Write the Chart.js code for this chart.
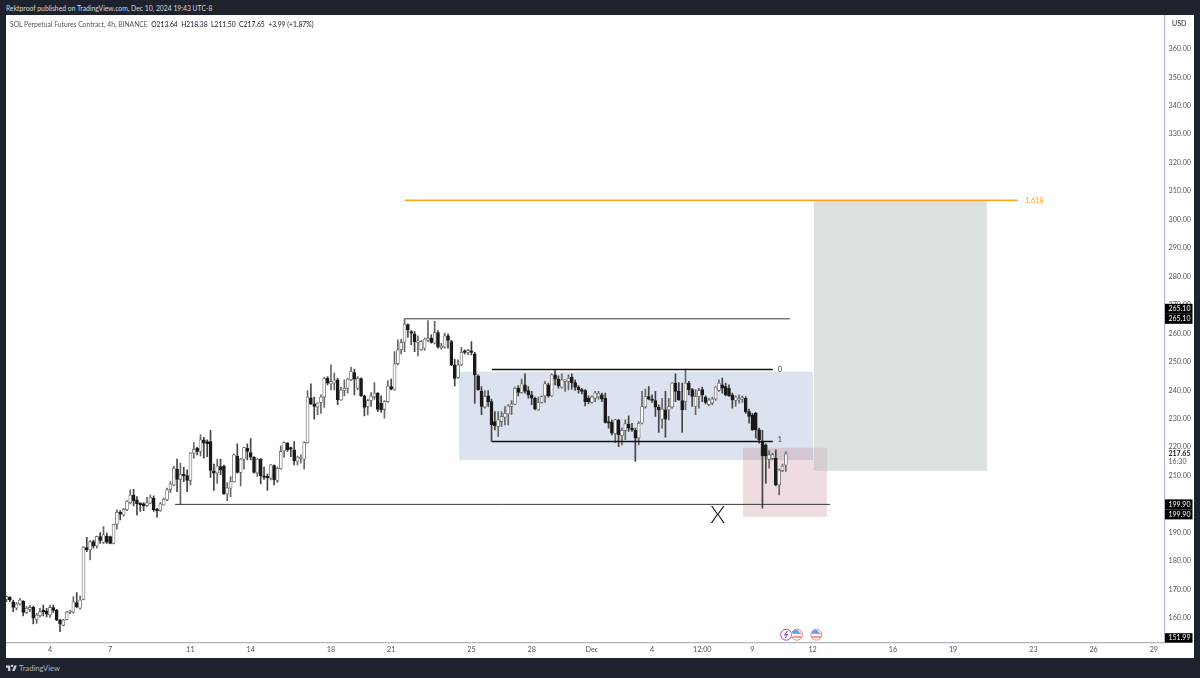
<!DOCTYPE html>
<html>
<head>
<meta charset="utf-8">
<title>SOL Perpetual Futures Contract, 4h</title>
<script src="https://cdn.jsdelivr.net/npm/chart.js@4"></script>
<style>
  html, body { margin: 0; padding: 0; width: 1200px; height: 678px; overflow: hidden; background: #1e222d; }
  body { position: relative; font-family: Lato, sans-serif; }
  #publisher { position: absolute; left: 6px; top: 3px; color: #d6d8de; font-size: 6.8px; line-height: 11px; white-space: nowrap; }
  #panel { position: absolute; left: 6px; top: 15px; width: 1188px; height: 643px; background: #fff; }
  #legend { position: absolute; left: 4px; top: 3px; font-size: 6.75px; line-height: 12px; color: #131722; white-space: nowrap; }
  #legend span { color: #50535e; }
  #brand { position: absolute; left: 19px; top: 662px; color: #b2b5be; font-size: 7.6px; line-height: 12px; }
  #logo { position: absolute; left: 6px; top: 664px; }
  canvas { position: absolute; left: 0; top: 0; }
</style>
</head>
<body>
<div id="publisher">Rektproof published on TradingView.com, Dec 10, 2024 19:43 UTC-8</div>
<div id="panel">
  <canvas id="solChart" width="1188" height="643"></canvas>
  <div id="legend"><span>SOL Perpetual Futures Contract, 4h, BINANCE</span>&nbsp;&nbsp;O213.64&nbsp;&nbsp;H218.38&nbsp;&nbsp;L211.50&nbsp;&nbsp;C217.65&nbsp;&nbsp;+3.99 (+1.87%)</div>
</div>
<svg id="logo" width="11" height="8" viewBox="0 0 36 24"><path fill="#d6d8de" d="M14 22H7V11H0V4h14zM28 22h-8l7.5-18h8zM20 9a4 4 0 1 0 0-8 4 4 0 0 0 0 8z"/></svg>
<div id="brand">TradingView</div>
<script>
// one candle every 4 hours, bar 0 is Nov 4 00:00
const firstBar = -13;

const opens = [
  166.5,167.2,165.7,163.4,164.9,165.8,161.9,163.0,163.7,159.5,
  160.8,162.8,162.4,161.0,163.6,162.8,159.3,157.4,159.5,161.9,
  162.0,165.4,163.4,166.5,184.7,183.9,186.8,185.3,188.6,186.5,
  188.8,188.6,186.2,192.9,197.1,196.2,198.0,200.5,203.2,201.5,
  200.3,200.1,199.4,200.3,202.1,198.2,197.7,199.7,201.5,205.2,
  206.7,212.3,208.7,210.3,210.0,208.3,217.9,219.6,218.5,222.6,
  222.0,222.0,211.7,210.9,213.2,213.4,203.5,205.6,207.9,216.9,
  211.1,215.8,219.6,218.1,216.5,210.9,215.8,209.7,209.3,209.1,
  213.5,208.3,212.4,218.7,221.4,219.6,219.1,215.1,216.0,215.8,
  221.6,237.3,235.2,234.1,235.7,237.6,244.2,242.2,242.5,243.7,
  236.6,239.9,240.7,243.7,246.2,240.7,244.1,238.0,234.3,236.4,
  237.6,239.0,235.4,233.3,236.0,241.3,240.1,249.3,254.2,256.9,
  263.1,260.6,259.8,256.8,254.2,254.8,257.5,258.3,256.5,260.3,
  255.0,255.1,259.1,257.1,248.9,244.5,248.9,253.6,253.3,253.6,
  252.8,245.1,239.6,234.1,238.0,236.0,229.0,227.3,229.0,230.5,
  231.7,234.3,235.1,240.7,239.2,241.9,239.9,238.4,237.2,233.1,
  235.7,238.0,241.9,238.0,245.4,243.9,241.1,243.1,243.1,244.6,
  242.7,241.1,240.2,239.9,237.2,235.7,237.2,237.6,238.4,237.2,
  229.0,228.7,224.7,229.4,224.0,225.9,228.1,226.7,225.9,223.2,
  228.4,234.1,237.8,236.9,236.4,234.1,229.8,233.1,233.1,234.1,
  242.5,239.6,236.4,236.0,242.5,240.2,234.3,237.8,240.2,237.6,
  234.9,235.5,236.9,239.9,241.9,241.3,240.7,238.4,236.4,236.6,
  236.9,237.2,232.5,231.4,231.9,226.1,222.0,220.8,215.8,216.0,
  216.1,206.7,211.8,213.64
];
const closes = [
  167.5,166.3,163.7,164.9,166.3,161.9,163.4,163.7,159.9,161.0,
  162.2,162.1,161.3,163.7,162.6,159.3,157.9,159.3,162.1,162.3,
  165.7,164.0,166.3,184.8,183.9,186.8,185.3,188.6,187.2,189.2,
  186.6,186.2,192.9,197.1,196.5,198.2,200.9,203.2,201.2,200.1,
  199.7,199.4,200.5,202.4,198.0,197.7,200.1,201.7,205.0,207.1,
  212.6,208.7,210.5,209.9,208.3,217.9,219.3,218.5,222.6,221.4,
  221.2,211.8,210.9,213.4,212.0,203.6,205.7,207.9,217.3,211.1,
  215.8,219.9,218.5,216.5,211.1,215.8,209.9,209.4,209.2,213.8,
  208.5,212.6,218.5,221.6,219.1,219.3,215.2,216.5,216.1,221.6,
  237.6,235.2,234.3,235.5,237.6,244.2,242.5,243.1,243.7,236.6,
  240.1,240.7,243.9,246.6,243.9,244.2,238.0,234.0,236.4,238.0,
  239.0,233.3,233.1,236.0,241.5,240.4,249.3,254.2,256.8,263.3,
  261.2,260.1,257.1,256.9,257.1,258.0,258.3,256.8,260.3,255.1,
  255.4,259.1,257.5,248.9,244.2,248.9,253.3,253.3,254.0,253.3,
  245.4,240.1,234.3,237.8,236.0,227.8,227.6,229.6,230.8,231.9,
  234.5,235.2,240.7,239.2,242.3,239.6,238.4,237.2,233.4,235.7,
  237.8,242.3,238.0,245.4,243.9,241.6,243.7,243.4,244.3,242.7,
  241.1,240.2,239.6,236.0,236.0,237.6,239.0,239.0,236.9,228.7,
  228.4,224.9,229.6,224.3,225.9,228.2,226.7,226.1,223.2,228.4,
  234.3,237.8,236.9,236.4,234.1,233.1,233.4,229.8,234.3,242.5,
  239.6,236.6,233.1,242.5,240.2,237.8,237.8,239.9,238.4,235.7,
  236.6,236.9,241.1,242.5,240.7,238.4,238.0,236.6,237.6,237.2,
  237.2,232.5,230.8,226.1,226.1,222.6,216.9,216.9,217.3,217.5,
  206.7,212.0,213.4,217.65
];
const highs = [
  167.7,167.5,166.3,165.4,166.9,166.1,164.0,164.4,164.2,161.6,
  163.4,164.5,163.4,164.5,164.5,163.0,159.5,159.5,162.3,162.8,
  167.5,168.9,167.7,185.1,188.3,187.2,187.4,188.8,190.0,192.1,
  189.8,188.8,193.0,198.0,197.7,198.5,201.2,205.0,205.2,202.6,
  200.5,200.5,202.4,203.2,202.9,198.5,200.5,202.1,205.6,207.9,
  213.4,215.8,214.4,213.0,212.0,218.1,221.6,220.0,224.4,223.5,
  222.6,225.9,214.1,215.8,215.8,213.7,207.6,209.7,217.6,221.2,
  216.1,220.0,221.2,223.0,216.7,216.1,216.0,213.0,210.6,214.0,
  213.8,213.0,220.5,221.9,221.6,220.0,222.0,216.9,217.3,221.9,
  239.9,242.3,237.6,235.7,238.4,244.6,244.8,248.9,246.0,244.2,
  241.1,243.7,244.2,248.1,247.4,244.8,244.4,238.3,236.8,239.2,
  242.7,239.2,238.0,236.4,243.4,243.9,253.6,257.7,258.0,265.1,
  263.3,261.0,260.6,259.1,257.5,258.3,264.5,259.5,264.2,261.0,
  256.5,260.1,259.8,257.5,250.9,250.7,255.1,254.2,254.4,257.1,
  253.3,245.4,241.3,239.9,239.9,236.9,232.5,232.5,232.5,234.3,
  234.9,236.4,241.1,241.6,243.9,245.8,241.3,239.6,237.6,237.6,
  238.0,243.1,242.5,245.8,247.2,245.1,245.8,243.7,245.4,245.8,
  243.7,241.6,240.7,240.2,238.0,238.0,239.6,239.6,239.0,239.0,
  230.8,229.6,229.8,229.8,226.7,229.6,231.0,228.4,226.7,229.0,
  239.6,240.4,241.3,238.4,239.6,234.9,237.2,239.6,237.2,242.7,
  245.8,242.7,242.5,247.4,243.1,240.7,240.2,240.7,241.1,238.0,
  237.2,237.6,241.3,243.7,244.3,242.5,241.9,239.0,238.0,238.4,
  238.0,237.8,233.4,231.9,232.2,226.7,225.9,221.2,218.8,217.9,
  219.1,212.3,214.1,218.38
];
const lows = [
  165.7,165.7,162.2,162.8,164.5,160.7,161.6,162.2,157.9,158.1,
  160.4,160.7,160.4,160.2,161.9,159.0,155.2,157.2,159.3,161.4,
  161.7,163.5,163.1,166.3,183.3,180.4,184.5,184.5,186.2,186.2,
  186.2,186.0,186.0,191.2,194.4,195.8,197.7,200.1,199.4,196.2,
  197.4,197.7,199.1,200.1,197.4,195.4,197.4,199.6,201.2,204.0,
  206.4,204.4,199.9,207.9,204.4,206.7,216.1,217.3,216.9,216.1,
  216.7,209.4,204.8,207.3,210.3,203.4,201.2,202.6,207.7,210.9,
  206.4,212.3,215.5,215.5,210.9,209.7,207.1,208.7,204.8,208.5,
  206.7,207.6,212.3,216.5,218.5,216.7,213.8,213.8,214.4,212.3,
  221.4,234.9,229.8,231.4,231.9,234.0,241.9,240.1,240.1,234.9,
  236.4,238.0,239.0,243.4,238.4,240.1,237.8,231.0,231.3,234.3,
  236.8,232.5,232.2,230.2,235.7,240.1,239.9,248.9,252.8,253.6,
  258.6,256.0,253.6,252.1,254.0,254.0,257.1,256.5,256.3,254.8,
  254.4,254.8,254.8,248.6,241.5,244.2,248.6,252.8,252.4,252.4,
  235.4,239.9,231.4,233.7,234.3,222.0,226.1,223.7,227.3,227.8,
  227.8,231.4,234.9,238.0,239.0,239.0,237.2,234.9,233.1,232.9,
  235.5,235.7,237.6,237.8,241.9,240.7,240.7,239.6,240.1,240.4,
  239.9,239.0,238.7,234.5,235.2,235.5,236.0,236.9,236.0,228.4,
  226.7,224.3,221.6,220.2,220.8,222.6,225.5,225.5,215.0,220.8,
  228.2,233.7,236.6,235.7,230.8,225.2,226.7,223.5,229.6,233.7,
  236.0,236.4,225.2,233.1,238.4,234.3,231.4,233.7,236.0,235.2,
  234.5,234.9,236.4,239.6,239.0,238.0,237.8,233.7,234.3,235.5,
  235.7,231.9,228.4,225.9,223.2,221.4,198.6,207.3,212.6,215.5,
  206.4,203.2,211.4,211.50
];

const tickBars = [0, 18, 42, 60, 84, 102, 126, 144, 162, 180, 195, 210, 228, 252, 270, 294, 312, 330];
const tickLabels = ['4', '7', '11', '14', '18', '21', '25', '28', 'Dec', '4', '12:00', '9', '12', '16', '19', '23', '26', '29'];

// drawn levels: 1.618, swing high, 0, 1, swing low
const levelPrices = [306.75, 265.1, 247.3, 222.0, 199.9];
const levelFrom = [106.1, 106.1, 132.1, 132.1, 37.4];
const levelTo = [289.3, 221.2, 216.1, 216.1, 233.2];

// shaded zones: range box, stop box, target box
const zoneTop = [246.5, 219.8, 306.6];
const zoneBottom = [215.5, 195.5, 211.7];
const zoneFrom = [122.3, 207.2, 228.4];
const zoneTo = [228.1, 232.3, 280.1];

const boxedPrices = [[265.1, -10], [265.1, 0], [199.9, 0], [199.9, 10]];

const barIndex = opens.map((o, i) => firstBar + i);
const isUp = opens.map((o, i) => closes[i] >= o);

const levelStyles = [
  { color: '#ff9f1a', width: 1.6 },
  { color: '#3a3a3a', width: 1 },
  { color: '#111111', width: 1.3 },
  { color: '#111111', width: 1.3 },
  { color: '#3a3a3a', width: 1 }
];
const zoneColors = ['rgba(182,194,224,0.47)', 'rgba(178,96,104,0.22)', 'rgba(178,192,186,0.47)'];
const tickFont = { family: 'Lato', size: 7.2 };

const annotations = {
  id: 'annotations',
  beforeDatasetsDraw(chart) {
    const { ctx, scales: { x, y } } = chart;
    ctx.save();
    zoneTop.forEach((top, i) => {
      const x0 = x.getPixelForValue(zoneFrom[i]);
      const x1 = x.getPixelForValue(zoneTo[i]);
      const y0 = y.getPixelForValue(top);
      const y1 = y.getPixelForValue(zoneBottom[i]);
      ctx.fillStyle = zoneColors[i];
      ctx.fillRect(x0, y0, x1 - x0, y1 - y0);
    });
    ctx.restore();
  },
  afterDraw(chart) {
    const { ctx, scales: { x, y } } = chart;
    const right = x.right + 0.5;
    ctx.save();
    ctx.textBaseline = 'middle';
    ctx.textAlign = 'left';

    // labels of the fib levels
    ctx.font = '7.2px Lato';
    ctx.fillStyle = '#ff9f1a';
    ctx.fillText('1.618', x.getPixelForValue(291.5), y.getPixelForValue(306.75));
    ctx.fillStyle = '#333333';
    ctx.fillText('0', x.getPixelForValue(217.6), y.getPixelForValue(247.3));
    ctx.fillText('1', x.getPixelForValue(217.6), y.getPixelForValue(222.8));

    // hand placed X under the low line
    ctx.font = '300 24px Lato';
    ctx.fillStyle = '#111111';
    ctx.textAlign = 'center';
    ctx.fillText('X', x.getPixelForValue(199.6), y.getPixelForValue(195.9));

    // price axis tags
    ctx.font = '7px Lato';
    ctx.textAlign = 'left';
    boxedPrices.forEach(([price, offset]) => {
      const py = y.getPixelForValue(price) + offset;
      ctx.fillStyle = '#000000';
      ctx.fillRect(right, py - 5, 27.5, 10);
      ctx.fillStyle = '#ffffff';
      ctx.fillText(price.toFixed(2), right + 3.5, py);
    });
    const lastY = y.getPixelForValue(151.99);
    ctx.fillStyle = '#000000';
    ctx.fillRect(right, lastY - 7.5, 27.5, 9.5);
    ctx.fillStyle = '#ffffff';
    ctx.fillText('151.99', right + 3.5, lastY - 2.8);

    const closeY = y.getPixelForValue(217.65);
    ctx.fillStyle = '#ffffff';
    ctx.fillRect(right, closeY - 4, 27.5, 13);
    ctx.font = 'bold 7px Lato';
    ctx.fillStyle = '#131722';
    ctx.fillText('217.65', right + 3.5, closeY);
    ctx.font = '7px Lato';
    ctx.fillStyle = '#50535e';
    ctx.fillText('16:30', right + 3.5, closeY + 8.2);

    ctx.fillStyle = '#131722';
    ctx.fillText('USD', right + 7, 9);

    // event markers along the bottom
    const markerY = y.bottom - 8;
    const drawRing = (px, stroke, fill) => {
      ctx.beginPath();
      ctx.arc(px, markerY, 5.5, 0, Math.PI * 2);
      ctx.fillStyle = fill;
      ctx.fill();
      ctx.lineWidth = 1;
      ctx.strokeStyle = stroke;
      ctx.stroke();
    };
    const boltX = x.getPixelForValue(220.1);
    drawRing(boltX, '#ab47bc', '#ffffff');
    ctx.beginPath();
    ctx.moveTo(boltX + 1, markerY - 3.5);
    ctx.lineTo(boltX - 1.5, markerY + 0.5);
    ctx.lineTo(boltX + 1.5, markerY - 0.5);
    ctx.lineTo(boltX - 1, markerY + 3.5);
    ctx.strokeStyle = '#8e24aa';
    ctx.stroke();
    [223.3, 229.1].forEach(bar => {
      const px = x.getPixelForValue(bar);
      drawRing(px, '#f77c80', '#ffffff');
      ctx.fillStyle = '#f77c80';
      ctx.fillRect(px - 4.5, markerY + 1.5, 9, 1.6);
      ctx.fillRect(px, markerY - 2, 4.5, 1.4);
      ctx.fillStyle = '#5b9cf6';
      ctx.beginPath();
      ctx.arc(px - 1, markerY - 1, 3.6, Math.PI, Math.PI * 2);
      ctx.fill();
    });
    ctx.restore();
  }
};

const levelDatasets = levelPrices.map((price, i) => ({
  type: 'line',
  data: [{ x: levelFrom[i], y: price }, { x: levelTo[i], y: price }],
  borderColor: levelStyles[i].color,
  borderWidth: levelStyles[i].width,
  pointRadius: 0,
  order: 1
}));

function dropAxisPadding(scale) {
  scale.paddingTop = 0;
  scale.paddingBottom = 0;
  scale.paddingLeft = 0;
  scale.paddingRight = 0;
}

new Chart(document.getElementById('solChart'), {
  type: 'bar',
  data: {
    datasets: [
      {
        data: barIndex.map((b, i) => ({ x: b, y: [lows[i], highs[i]] })),
        backgroundColor: isUp.map(up => up ? '#666666' : '#444444'),
        barThickness: 1,
        order: 3
      },
      {
        data: barIndex.map((b, i) => ({ x: b, y: [opens[i], closes[i]] })),
        backgroundColor: isUp.map(up => up ? '#ffffff' : '#1a1a1a'),
        borderColor: isUp.map(up => up ? '#666666' : '#1a1a1a'),
        borderWidth: 0.8,
        borderSkipped: false,
        barThickness: 3,
        minBarLength: 1.5,
        order: 2
      },
      ...levelDatasets
    ]
  },
  plugins: [annotations],
  options: {
    responsive: false,
    animation: false,
    devicePixelRatio: 1,
    layout: { padding: 0 },
    datasets: { bar: { grouped: false } },
    plugins: { legend: { display: false }, tooltip: { enabled: false } },
    scales: {
      x: {
        type: 'linear',
        offset: false,
        min: -13.15,
        max: 333.2,
        grid: { display: false, drawTicks: false },
        border: { color: '#b2b5be', width: 1.2 },
        afterBuildTicks(scale) {
          scale.ticks = tickBars.map(v => ({ value: v }));
        },
        afterFit(scale) {
          scale.height = 15.3;
          dropAxisPadding(scale);
        },
        ticks: {
          autoSkip: false,
          maxRotation: 0,
          padding: 3,
          color: '#50535e',
          font: tickFont,
          callback: (value, index) => tickLabels[index]
        }
      },
      y: {
        type: 'linear',
        position: 'right',
        min: 151.3,
        max: 371.85,
        grid: { display: false, drawTicks: false },
        border: { color: '#b2b5be', width: 1.2 },
        afterFit(scale) {
          scale.width = 29.5;
          dropAxisPadding(scale);
        },
        ticks: {
          stepSize: 10,
          includeBounds: false,
          autoSkip: false,
          padding: 4,
          color: '#50535e',
          font: tickFont,
          // the reference shows nothing above 360
          callback: value => value > 360 ? '' : value.toFixed(2)
        }
      }
    }
  }
});
</script>
</body>
</html>
